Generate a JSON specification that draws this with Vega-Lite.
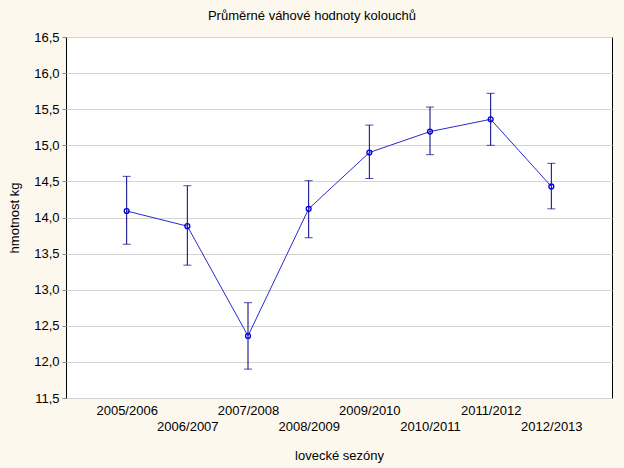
{
  "$schema": "https://vega.github.io/schema/vega-lite/v6.json",
  "width": 546,
  "height": 361,
  "autosize": {"type": "none"},
  "padding": {"left": 66, "top": 37, "right": 12, "bottom": 70},
  "background": "#fcf8ee",
  "title": {"text": "Průměrné váhové hodnoty kolouchů", "font": "Liberation Sans", "fontSize": 13, "fontWeight": "normal", "color": "#000000", "offset": 8, "dx": -27},
  "config": {
    "view": {"stroke": "#000000", "strokeWidth": 1, "fill": "#ffffff"},
    "axis": {"labelFont": "Liberation Sans", "titleFont": "Liberation Sans", "labelFontSize": 13, "titleFontSize": 13, "titleFontWeight": "normal", "labelColor": "#000000", "titleColor": "#000000", "gridColor": "#d4d4d4", "gridOpacity": 1, "domain": false, "labelOverlap": false}
  },
  "data": {"values": [
    {"season": "2005/2006", "mean": 14.09, "low": 13.63, "high": 14.57},
    {"season": "2006/2007", "mean": 13.88, "low": 13.34, "high": 14.44},
    {"season": "2007/2008", "mean": 12.36, "low": 11.90, "high": 12.82},
    {"season": "2008/2009", "mean": 14.12, "low": 13.72, "high": 14.51},
    {"season": "2009/2010", "mean": 14.90, "low": 14.54, "high": 15.28},
    {"season": "2010/2011", "mean": 15.19, "low": 14.87, "high": 15.53},
    {"season": "2011/2012", "mean": 15.36, "low": 15.00, "high": 15.72},
    {"season": "2012/2013", "mean": 14.43, "low": 14.12, "high": 14.75}
  ]},
  "encoding": {
    "x": {"field": "season", "type": "ordinal", "scale": {"type": "point", "padding": 1},
      "axis": {"title": "lovecké sezóny", "labelAngle": 0, "ticks": false, "titlePadding": 16,
        "labelPadding": {"expr": "indexof(['2006/2007','2008/2009','2010/2011','2012/2013'], datum.value) >= 0 ? 22 : 6"}}}
  },
  "layer": [
    {"mark": {"type": "rule", "color": "#000080", "strokeWidth": 1},
     "encoding": {"y": {"field": "low", "type": "quantitative", "scale": {"domain": [11.5, 16.5], "nice": false, "zero": false},
        "axis": {"title": "hmotnost kg", "values": [11.5, 12, 12.5, 13, 13.5, 14, 14.5, 15, 15.5, 16, 16.5], "tickCount": 20, "labelExpr": "replace(format(datum.value, '.1f'), '.', ',')", "tickSize": 4, "tickColor": "#888888", "labelPadding": 3, "titlePadding": 12}},
       "y2": {"field": "high"}}},
    {"mark": {"type": "tick", "color": "#000080", "size": 8, "thickness": 1, "orient": "horizontal"},
     "encoding": {"y": {"field": "low", "type": "quantitative"}}},
    {"mark": {"type": "tick", "color": "#000080", "size": 8, "thickness": 1, "orient": "horizontal"},
     "encoding": {"y": {"field": "high", "type": "quantitative"}}},
    {"mark": {"type": "line", "color": "#2a2acc", "strokeWidth": 1},
     "encoding": {"y": {"field": "mean", "type": "quantitative"}}},
    {"mark": {"type": "point", "shape": "circle", "filled": false, "color": "#0000dd", "size": 24, "strokeWidth": 1.3, "opacity": 1},
     "encoding": {"y": {"field": "mean", "type": "quantitative"}}}
  ]
}
